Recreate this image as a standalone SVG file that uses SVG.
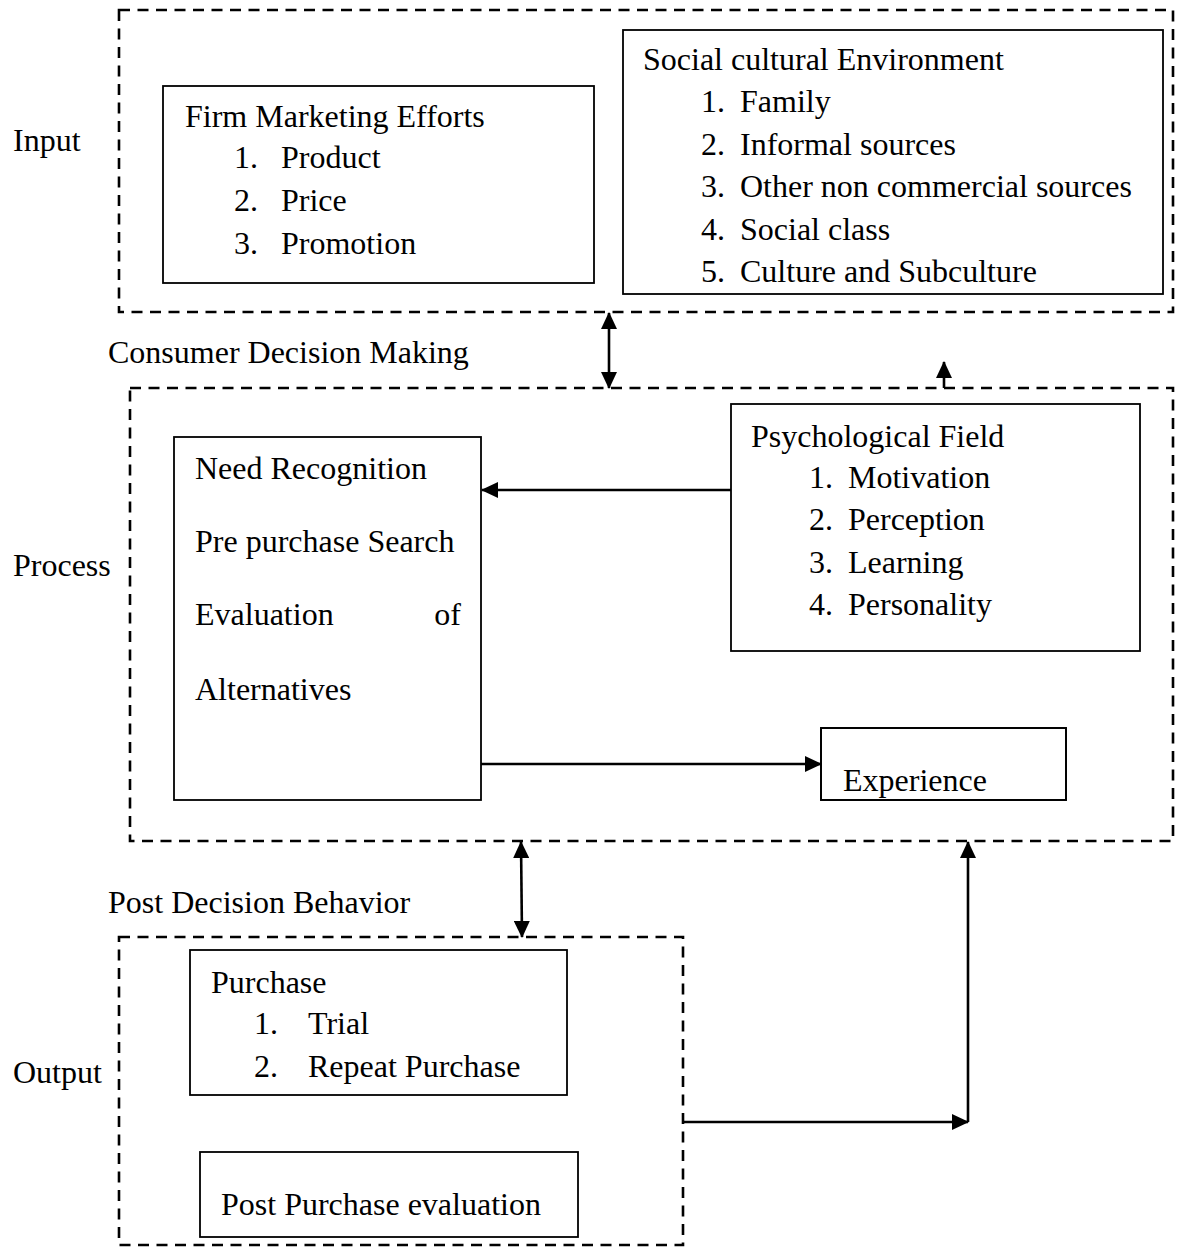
<svg xmlns="http://www.w3.org/2000/svg" width="1179" height="1255" viewBox="0 0 1179 1255">
  <style>
    text { font-family: "Liberation Serif", "Times New Roman", serif; font-size: 32px; fill: #000; }
    .stage { fill: none; stroke: #000; stroke-width: 2.6; stroke-dasharray: 11 7.5; }
    .box { fill: #fff; stroke: #000; stroke-width: 1.8; }
    .link { fill: none; stroke: #000; stroke-width: 2.6; }
  </style>
  <defs>
    <marker id="head" viewBox="0 0 17 16" refX="16" refY="8" markerWidth="17" markerHeight="16" markerUnits="userSpaceOnUse" orient="auto-start-reverse">
      <path d="M0,0 L17,8 L0,16 Z" fill="#000"/>
    </marker>
    <clipPath id="expClip">
      <rect x="821" y="728" width="245" height="72"/>
    </clipPath>
  </defs>

  <!-- stage frames -->
  <g id="input-stage">
    <rect class="stage" x="119" y="10" width="1054" height="302"/>
    <text x="13" y="151">Input</text>
  </g>
  <g id="process-stage">
    <rect class="stage" x="130" y="388" width="1043" height="453"/>
    <text x="108" y="363">Consumer Decision Making</text>
    <text x="13" y="576">Process</text>
  </g>
  <g id="output-stage">
    <rect class="stage" x="119" y="937" width="564" height="308"/>
    <text x="108" y="913">Post Decision Behavior</text>
    <text x="13" y="1083">Output</text>
  </g>

  <!-- input nodes -->
  <g id="firm-marketing">
    <rect class="box" x="163" y="86" width="431" height="197"/>
    <text x="185" y="127">Firm Marketing Efforts</text>
    <text x="234" y="168">1.</text><text x="281" y="168">Product</text>
    <text x="234" y="211">2.</text><text x="281" y="211">Price</text>
    <text x="234" y="254">3.</text><text x="281" y="254">Promotion</text>
  </g>
  <g id="social-cultural">
    <rect class="box" x="623" y="30" width="540" height="264"/>
    <text x="643" y="70">Social cultural Environment</text>
    <text x="701" y="112">1.</text><text x="740" y="112">Family</text>
    <text x="701" y="155">2.</text><text x="740" y="155">Informal sources</text>
    <text x="701" y="197">3.</text><text x="740" y="197">Other non commercial sources</text>
    <text x="701" y="240">4.</text><text x="740" y="240">Social class</text>
    <text x="701" y="282">5.</text><text x="740" y="282">Culture and Subculture</text>
  </g>

  <!-- process nodes -->
  <g id="decision-steps">
    <rect class="box" x="174" y="437" width="307" height="363"/>
    <text x="195" y="479">Need Recognition</text>
    <text x="195" y="552">Pre purchase Search</text>
    <text x="195" y="625">Evaluation</text>
    <text x="461" y="625" text-anchor="end">of</text>
    <text x="195" y="700">Alternatives</text>
  </g>
  <g id="psychological-field">
    <rect class="box" x="731" y="404" width="409" height="247"/>
    <text x="751" y="447">Psychological Field</text>
    <text x="809" y="488">1.</text><text x="848" y="488">Motivation</text>
    <text x="809" y="530">2.</text><text x="848" y="530">Perception</text>
    <text x="809" y="573">3.</text><text x="848" y="573">Learning</text>
    <text x="809" y="615">4.</text><text x="848" y="615">Personality</text>
  </g>
  <g id="experience">
    <rect class="box" x="821" y="728" width="245" height="72"/>
    <text x="843" y="791" clip-path="url(#expClip)">Experience</text>
    <rect x="821" y="728" width="245" height="72" fill="none" stroke="#000" stroke-width="1.8"/>
  </g>

  <!-- output nodes -->
  <g id="purchase">
    <rect class="box" x="190" y="950" width="377" height="145"/>
    <text x="211" y="993">Purchase</text>
    <text x="254" y="1034">1.</text><text x="308" y="1034">Trial</text>
    <text x="254" y="1077">2.</text><text x="308" y="1077">Repeat Purchase</text>
  </g>
  <g id="post-purchase">
    <rect class="box" x="200" y="1152" width="378" height="85"/>
    <text x="221" y="1215">Post Purchase evaluation</text>
  </g>

  <!-- connectors -->
  <g id="connectors">
    <path class="link" d="M609,313 L609,388" marker-start="url(#head)" marker-end="url(#head)"/>
    <path class="link" d="M944,388 L944,362" marker-end="url(#head)"/>
    <path class="link" d="M731,490 L482,490" marker-end="url(#head)"/>
    <path class="link" d="M481,764 L821,764" marker-end="url(#head)"/>
    <path class="link" d="M521,842 L522,937" marker-start="url(#head)" marker-end="url(#head)"/>
    <path class="link" d="M683,1122 L968,1122" marker-end="url(#head)"/>
    <path class="link" d="M968,1122 L968,842" marker-end="url(#head)"/>
  </g>
</svg>
